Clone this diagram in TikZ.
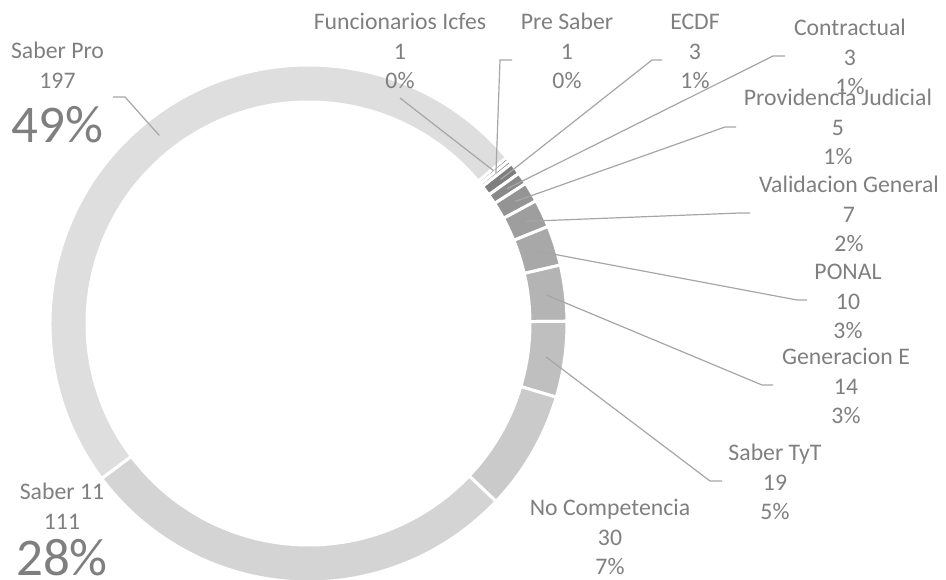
\documentclass[tikz,border=0pt]{standalone}
\usepackage{fontspec}
\setmainfont{Carlito}
\usepackage{tikz}
\definecolor{labelgray}{HTML}{7F7F7F}
\definecolor{leadgray}{HTML}{A6A6A6}

\begin{document}
\begin{tikzpicture}[x=1pt,y=1pt,node distance=29.5pt,
                    lbl/.style={text=labelgray,inner sep=0pt,text height=15.5pt,text depth=0pt},
                    bigpct/.style={lbl,font=\fontsize{53}{60}\selectfont,text height=34pt},
                    leader/.style={draw=leadgray,line width=1.2pt}]
\tikzset{font=\fontsize{23.75}{29}\selectfont}
\useasboundingbox (0,0) rectangle (946,579);
\coordinate (ctr) at (308.5,255.5);

  % ring, clockwise from 40 deg, 401 in total
  \foreach \name/\a/\b/\v in {Func/0/1/106, Pre/1/2/116, Ecdf/2/5/126, Contr/5/8/137,
                              Prov/8/13/148, Valid/13/20/158, Ponal/20/30/168, GenE/30/44/180,
                              Tyt/44/63/191, NoComp/63/93/202, Once/93/204/212, Pro/204/401/222}{
    \pgfmathsetmacro{\sa}{40-\a/401*360}
    \pgfmathsetmacro{\ea}{40-\b/401*360}
    \pgfmathsetmacro{\ma}{(\sa+\ea)/2}
    \path[fill={rgb,255:red,\v;green,\v;blue,\v},draw=white,line width=3pt]
      ([shift={(\sa:258.5pt)}]ctr) arc[start angle=\sa,end angle=\ea,radius=258.5pt]
      -- ([shift={(\ea:221.5pt)}]ctr) arc[start angle=\ea,end angle=\sa,radius=221.5pt] -- cycle;
    \coordinate (s\name) at ([shift={(\ma:240pt)}]ctr);
  }

        \node[lbl]                  (proName)   at (57.5,528)             {Saber Pro};
        \node[lbl]                  (proVal)    [below of=proName]        {197};
        \node[bigpct,node distance=45pt] (proPct) [below of=proVal]       {49\%};

        \node[lbl]                  (onceName)  at (62,87)                {Saber 11};
        \node[lbl]                  (onceVal)   [below of=onceName]       {111};
        \node[bigpct,node distance=37pt] (oncePct) [below of=onceVal]     {28\%};

        \node[lbl]                  (funcName)  at (400,557)              {Funcionarios Icfes};
        \node[lbl]                  (funcVal)   [below of=funcName]       {1};
        \node[lbl]                  (funcPct)   [below of=funcVal]        {0\%};

        \node[lbl]                  (preName)   at (567,557)              {Pre Saber};
        \node[lbl]                  (preVal)    [below of=preName]        {1};
        \node[lbl]                  (prePct)    [below of=preVal]         {0\%};

        \node[lbl]                  (ecdfName)  at (695,557)              {ECDF};
        \node[lbl]                  (ecdfVal)   [below of=ecdfName]       {3};
        \node[lbl]                  (ecdfPct)   [below of=ecdfVal]        {1\%};

        \node[lbl]                  (contrName) at (850,551)              {Contractual};
        \node[lbl]                  (contrVal)  [below of=contrName]      {3};
        \node[lbl]                  (contrPct)  [below of=contrVal]       {1\%};

        \node[lbl]                  (provName)  at (838,481)              {Providencia Judicial};
        \node[lbl]                  (provVal)   [below of=provName]       {5};
        \node[lbl]                  (provPct)   [below of=provVal]        {1\%};

        \node[lbl]                  (validName) at (849,394)              {Validacion General};
        \node[lbl]                  (validVal)  [below of=validName]      {7};
        \node[lbl]                  (validPct)  [below of=validVal]       {2\%};

        \node[lbl]                  (ponalName) at (848,307)              {PONAL};
        \node[lbl]                  (ponalVal)  [below of=ponalName]      {10};
        \node[lbl]                  (ponalPct)  [below of=ponalVal]       {3\%};

        \node[lbl]                  (genName)   at (846,222)              {Generacion E};
        \node[lbl]                  (genVal)    [below of=genName]        {14};
        \node[lbl]                  (genPct)    [below of=genVal]         {3\%};

        \node[lbl]                  (tytName)   at (775,126)              {Saber TyT};
        \node[lbl]                  (tytVal)    [below of=tytName]        {19};
        \node[lbl]                  (tytPct)    [below of=tytVal]         {5\%};

        \node[lbl]                  (ncName)    at (610,71)               {No Competencia};
        \node[lbl]                  (ncVal)     [below of=ncName]         {30};
        \node[lbl]                  (ncPct)     [below of=ncVal]          {7\%};

        % leader lines: knee, then end
        \coordinate (kPro)   at (125,482);  \coordinate (ePro)   at (113,482);
        \coordinate (eFunc)  at (400,481);
        \coordinate (kPre)   at (500,519);  \coordinate (ePre)   at (512,519);
        \coordinate (kEcdf)  at (652,519);  \coordinate (eEcdf)  at (662,519);
        \coordinate (kContr) at (773,523);  \coordinate (eContr) at (785,523);
        \coordinate (kProv)  at (725,452);  \coordinate (eProv)  at (736,452);
        \coordinate (kValid) at (740,366);  \coordinate (eValid) at (750,366);
        \coordinate (kPonal) at (797,279);  \coordinate (ePonal) at (807,279);
        \coordinate (kGenE)  at (762,194);  \coordinate (eGenE)  at (773,194);
        \coordinate (kTyt)   at (710,98);   \coordinate (eTyt)   at (722,98);

        \draw[leader] (sPro)   -- (kPro)   -- (ePro);
        \draw[leader] (sFunc)  -- (eFunc);
        \draw[leader] (sPre)   -- (kPre)   -- (ePre);
        \draw[leader] (sEcdf)  -- (kEcdf)  -- (eEcdf);
        \draw[leader] (sContr) -- (kContr) -- (eContr);
        \draw[leader] (sProv)  -- (kProv)  -- (eProv);
        \draw[leader] (sValid) -- (kValid) -- (eValid);
        \draw[leader] (sPonal) -- (kPonal) -- (ePonal);
        \draw[leader] (sGenE)  -- (kGenE)  -- (eGenE);
        \draw[leader] (sTyt)   -- (kTyt)   -- (eTyt);

\end{tikzpicture}
\end{document}
